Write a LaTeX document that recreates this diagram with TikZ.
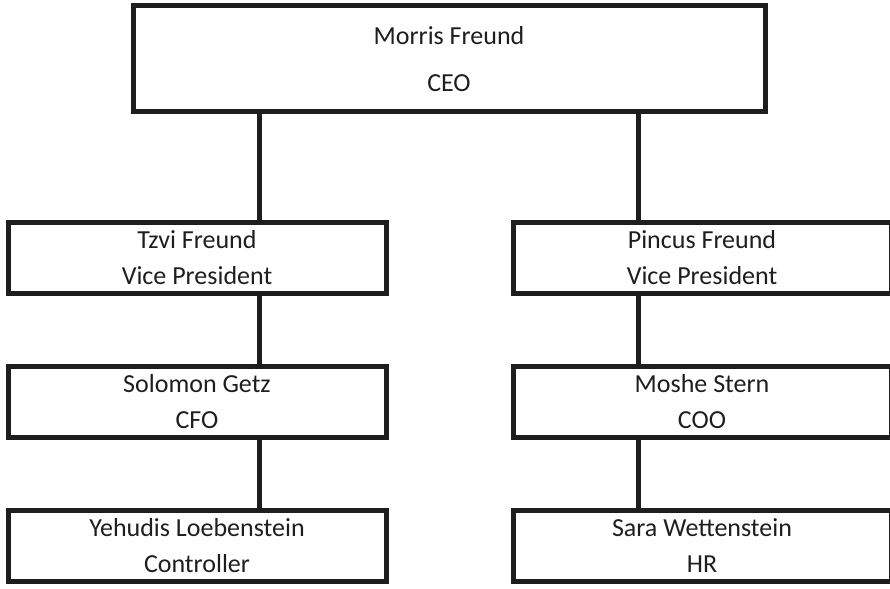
\documentclass[tikz,border=0pt]{standalone}
\usepackage{fontspec}
\setmainfont{Carlito}
\usetikzlibrary{positioning,calc}
\definecolor{orgink}{RGB}{30,30,30}

\begin{document}
\begin{tikzpicture}[x=1pt,y=1pt,line width=5pt,node distance=73pt and 127pt,
          font=\fontsize{26}{36}\selectfont,
          post/.style={draw=orgink,text=orgink,align=center,outer sep=0pt,minimum width=378pt,minimum height=71pt,inner sep=0pt},
          head/.style={post,minimum width=632pt,minimum height=106pt}]
        \useasboundingbox (0,0) rectangle (890,-588);
        \node[head] (ceo) at (449,-59) {Morris Freund\\[11pt]CEO};
        \node[post] (tzvi) at (197,-257.5) {Tzvi Freund\\Vice President};
        \node[post] (pinc) [right=of tzvi] {Pincus Freund\\Vice President};
        \node[post] (sol) [below=of tzvi] {Solomon Getz\\CFO};
        \node[post] (mos) [below=of pinc] {Moshe Stern\\COO};
        \node[post] (yeh) [below=of sol] {Yehudis Loebenstein\\Controller};
        \node[post] (sara) [below=of mos] {Sara Wettenstein\\HR};
        \coordinate (cl) at ($(ceo.south west)!0.2!(ceo.south east)$);
        \coordinate (cr) at ($(ceo.south west)!0.8!(ceo.south east)$);
        \draw[orgink] (cl) -- (cl |- tzvi.north);
        \draw[orgink] (cr) -- (cr |- pinc.north);
        \draw[orgink] (cl |- tzvi.south) -- (cl |- sol.north);
        \draw[orgink] (cr |- mos.north) -- (cr |- pinc.south);
        \draw[orgink] (cl |- sol.south) -- (cl |- yeh.north);
        \draw[orgink] (cr |- mos.south) -- (cr |- sara.north);
      \end{tikzpicture}
\end{document}
